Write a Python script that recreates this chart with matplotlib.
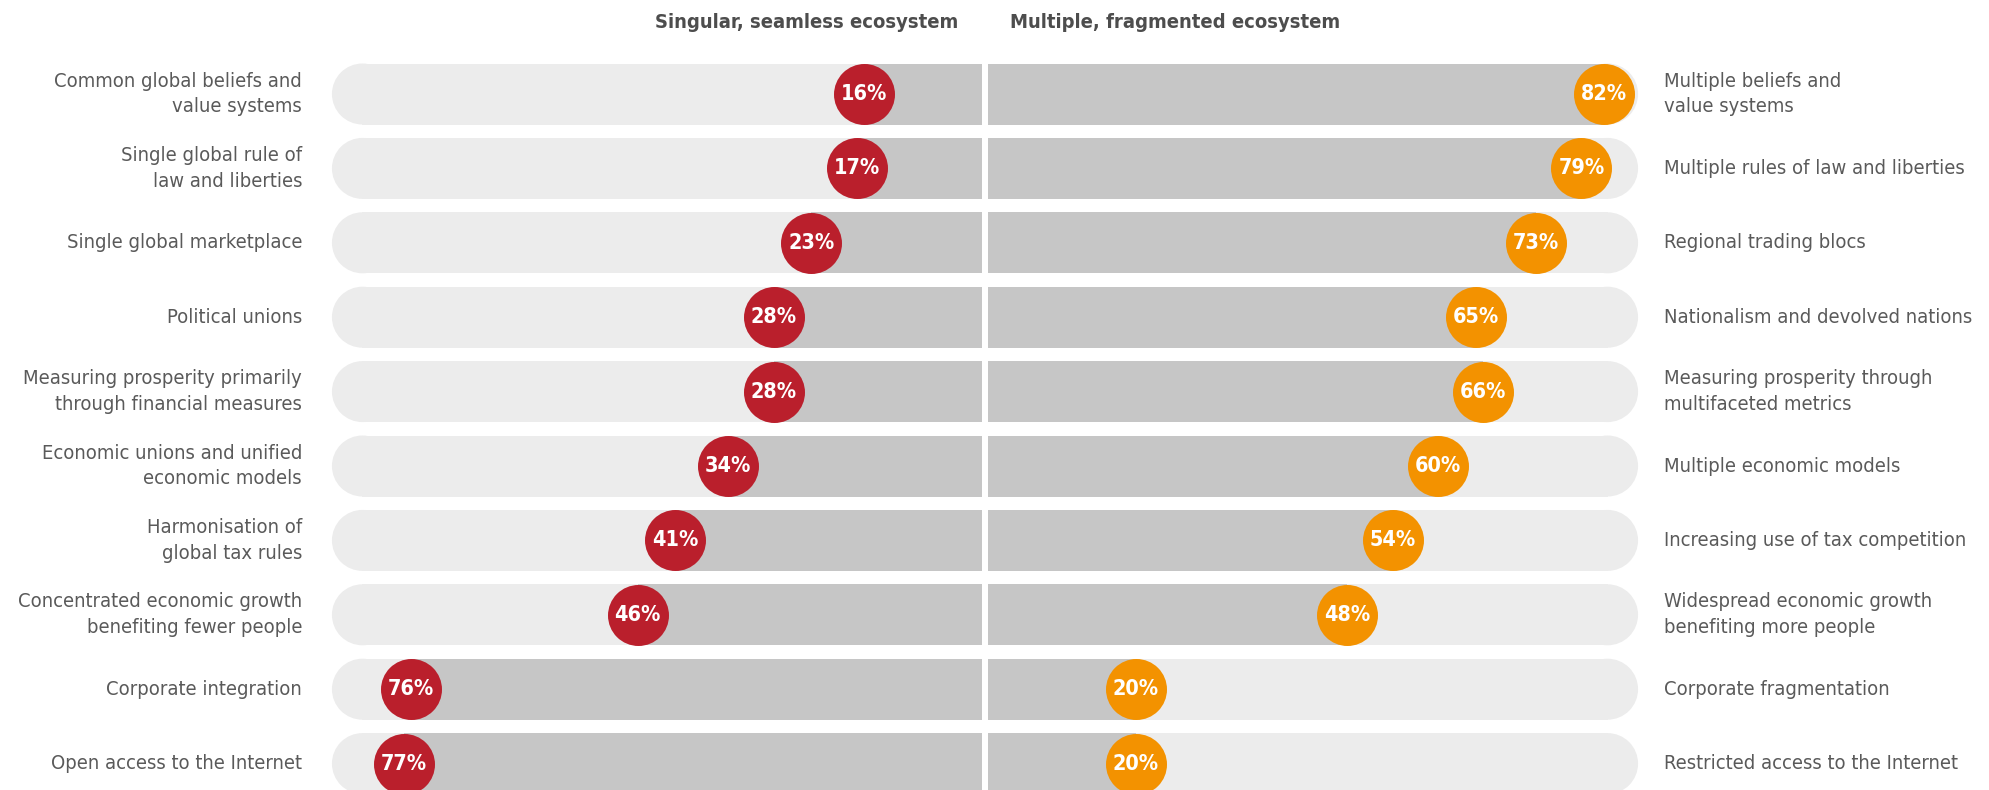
import matplotlib
matplotlib.use("Agg")
import matplotlib.pyplot as plt
from matplotlib import font_manager
from matplotlib.patches import Ellipse, Rectangle

left_labels = [
    "Common global beliefs and\nvalue systems",
    "Single global rule of\nlaw and liberties",
    "Single global marketplace",
    "Political unions",
    "Measuring prosperity primarily\nthrough financial measures",
    "Economic unions and unified\neconomic models",
    "Harmonisation of\nglobal tax rules",
    "Concentrated economic growth\nbenefiting fewer people",
    "Corporate integration",
    "Open access to the Internet",
]
right_labels = [
    "Multiple beliefs and\nvalue systems",
    "Multiple rules of law and liberties",
    "Regional trading blocs",
    "Nationalism and devolved nations",
    "Measuring prosperity through\nmultifaceted metrics",
    "Multiple economic models",
    "Increasing use of tax competition",
    "Widespread economic growth\nbenefiting more people",
    "Corporate fragmentation",
    "Restricted access to the Internet",
]
singular = [16, 17, 23, 28, 28, 34, 41, 46, 76, 77]
multiple = [82, 79, 73, 65, 66, 60, 54, 48, 20, 20]
headers = ["Singular, seamless ecosystem", "Multiple, fragmented ecosystem"]

LIGHT = "#ececec"
DARK = "#c6c6c6"
RED = "#ba1f2c"
ORANGE = "#f39200"
TEXT = "#5a5a5a"

# pick a narrow font if one is installed
names = {f.name for f in font_manager.fontManager.ttflist}
narrow = [f for f in font_manager.fontManager.ttflist
          if f.name == "DejaVu Sans" and "ondensed" in str(f.stretch) + f.fname]
if "Liberation Sans Narrow" in names:
    fam, stretch, fs = "Liberation Sans Narrow", "normal", 16.5
elif narrow:
    fam, stretch, fs = "DejaVu Sans", "condensed", 14.5
else:
    fam, stretch, fs = "Liberation Sans", "normal", 14
plt.rcParams["font.family"] = [fam, "DejaVu Sans"]

W, H = 1990, 790
px_per_pct = 7.55      # pixels per percentage point
px_per_row = 74.4
cx_px, row0_px = 985, 94

fig = plt.figure(figsize=(W / 100, H / 100), dpi=100)
ax = fig.add_axes([0, 0, 1, 1])
ax.set_xlim(-cx_px / px_per_pct, (W - cx_px) / px_per_pct)
ax.set_ylim((H - row0_px) / px_per_row, -row0_px / px_per_row)
ax.axis("off")

track_end = 86.5
gap = 0.4
bar_h = 61 / px_per_row
rx = 30.5 / px_per_pct  # end-cap radius in x units

for i in range(len(singular)):
    y = i
    # light tracks with rounded outer ends
    ax.add_patch(Rectangle((-track_end + rx, y - bar_h / 2), track_end - rx - gap, bar_h,
                           color=LIGHT, lw=0))
    ax.add_patch(Ellipse((-track_end + rx, y), 2 * rx, bar_h, color=LIGHT, lw=0))
    ax.add_patch(Rectangle((gap, y - bar_h / 2), track_end - rx - gap, bar_h,
                           color=LIGHT, lw=0))
    ax.add_patch(Ellipse((track_end - rx, y), 2 * rx, bar_h, color=LIGHT, lw=0))

# filled parts from the centre to the value
ax.barh(range(len(singular)), [-v + gap for v in singular], left=-gap,
        height=bar_h, color=DARK, lw=0)
ax.barh(range(len(multiple)), [v - gap for v in multiple], left=gap,
        height=bar_h, color=DARK, lw=0)

dot = (61 * 0.72) ** 2
ax.scatter([-v for v in singular], range(len(singular)), s=dot, color=RED, lw=0, zorder=3)
ax.scatter(multiple, range(len(multiple)), s=dot, color=ORANGE, lw=0, zorder=3)

for i, (a, b) in enumerate(zip(singular, multiple)):
    ax.text(-a, i, f"{a}%", ha="center", va="center", color="white",
            fontsize=fs + 1, fontweight="bold", fontstretch=stretch, zorder=4)
    ax.text(b, i, f"{b}%", ha="center", va="center", color="white",
            fontsize=fs + 1, fontweight="bold", fontstretch=stretch, zorder=4)

lab_x = (cx_px - 302) / px_per_pct
for i, (l, r) in enumerate(zip(left_labels, right_labels)):
    ax.text(-lab_x, i, l, ha="right", va="center", color=TEXT, fontsize=fs,
            fontstretch=stretch, linespacing=1.45)
    ax.text(lab_x - 0.5, i, r, ha="left", va="center", color=TEXT, fontsize=fs,
            fontstretch=stretch, linespacing=1.45)

hy = -(row0_px - 23) / px_per_row
ax.text(-27 / px_per_pct, hy, headers[0], ha="right", va="center", color="#4d4d4d",
        fontsize=fs, fontweight="bold", fontstretch=stretch)
ax.text(25 / px_per_pct, hy, headers[1], ha="left", va="center", color="#4d4d4d",
        fontsize=fs, fontweight="bold", fontstretch=stretch)

fig.savefig("out.png", dpi=100, facecolor="white")
